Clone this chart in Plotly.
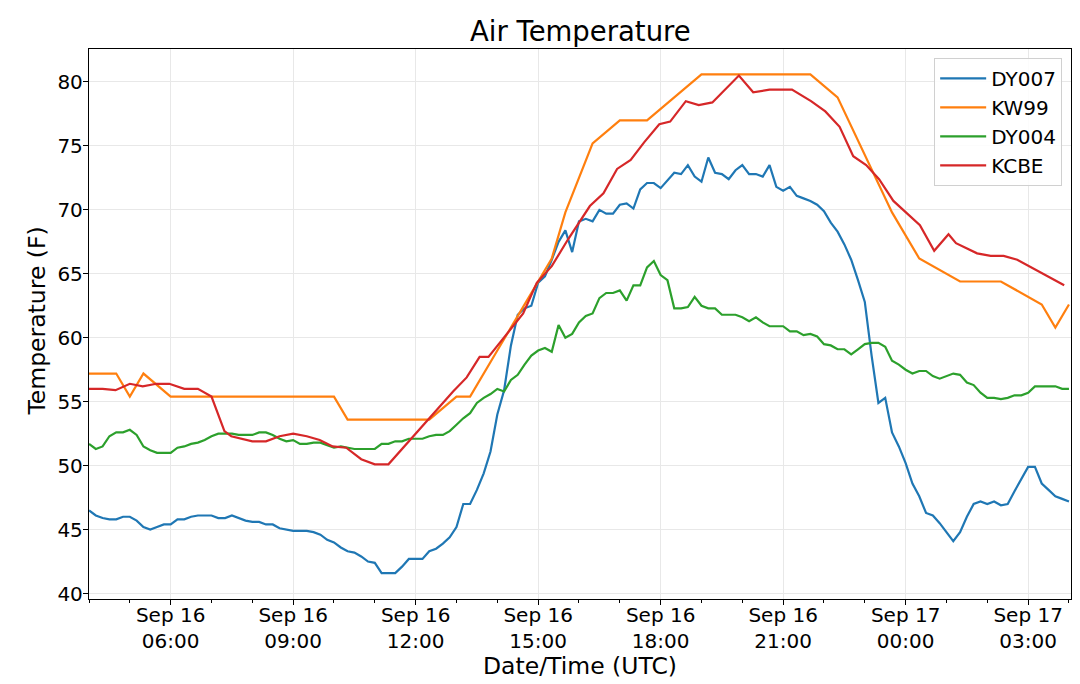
import plotly.graph_objects as go
import pandas as pd

# DY007 / DY004: 10-minute observations, Sep 16 04:00 UTC -> Sep 17 04:00 UTC
start = "2019-09-16 04:00"

dy007 = [
    46.5, 46.1, 45.9, 45.8, 45.8, 46.0,  # 04h
    46.0, 45.7, 45.2, 45.0, 45.2, 45.4,  # 05h
    45.4, 45.8, 45.8, 46.0, 46.1, 46.1,  # 06h
    46.1, 45.9, 45.9, 46.1, 45.9, 45.7,  # 07h
    45.6, 45.6, 45.4, 45.4, 45.1, 45.0,  # 08h
    44.9, 44.9, 44.9, 44.8, 44.6, 44.2,  # 09h
    44.0, 43.6, 43.3, 43.2, 42.9, 42.5,  # 10h
    42.4, 41.6, 41.6, 41.6, 42.1, 42.7,  # 11h
    42.7, 42.7, 43.3, 43.5, 43.9, 44.4,  # 12h
    45.2, 47.0, 47.0, 48.1, 49.4, 51.1,  # 13h
    54.0, 55.9, 59.4, 61.8, 62.3, 62.5,  # 14h
    64.3, 64.8, 66.1, 67.5, 68.4, 66.7,  # 15h
    69.1, 69.3, 69.1, 70.0, 69.7, 69.7,  # 16h
    70.4, 70.5, 70.1, 71.6, 72.1, 72.1,  # 17h
    71.7, 72.3, 72.9, 72.8, 73.5, 72.6,  # 18h
    72.2, 74.1, 72.9, 72.8, 72.4, 73.1,  # 19h
    73.5, 72.8, 72.8, 72.6, 73.5, 71.8,  # 20h
    71.5, 71.8, 71.1, 70.9, 70.7, 70.4,  # 21h
    69.9, 69.0, 68.3, 67.3, 66.1, 64.5,  # 22h
    62.8, 58.6, 54.9, 55.3, 52.6, 51.5,  # 23h
    50.2, 48.6, 47.6, 46.3, 46.1, 45.5,  # 00h
    44.8, 44.1, 44.8, 46.0, 47.0, 47.2,  # 01h
    47.0, 47.2, 46.9, 47.0, 48.0, 49.0,  # 02h
    49.9, 49.9, 48.6, 48.1, 47.6, 47.4,  # 03h
    47.2,
]

dy004 = [
    51.7, 51.3, 51.5, 52.3, 52.6, 52.6,  # 04h
    52.8, 52.4, 51.5, 51.2, 51.0, 51.0,  # 05h
    51.0, 51.4, 51.5, 51.7, 51.8, 52.0,  # 06h
    52.3, 52.5, 52.5, 52.5, 52.4, 52.4,  # 07h
    52.4, 52.6, 52.6, 52.4, 52.1, 51.9,  # 08h
    52.0, 51.7, 51.7, 51.8, 51.8, 51.6,  # 09h
    51.4, 51.5, 51.4, 51.3, 51.3, 51.3,  # 10h
    51.3, 51.7, 51.7, 51.9, 51.9, 52.1,  # 11h
    52.1, 52.1, 52.3, 52.4, 52.4, 52.7,  # 12h
    53.2, 53.7, 54.1, 54.9, 55.3, 55.6,  # 13h
    56.0, 55.8, 56.7, 57.1, 57.9, 58.6,  # 14h
    59.0, 59.2, 58.9, 61.0, 60.0, 60.3,  # 15h
    61.2, 61.7, 61.9, 63.1, 63.5, 63.5,  # 16h
    63.7, 62.9, 64.1, 64.1, 65.5, 66.0,  # 17h
    64.9, 64.5, 62.3, 62.3, 62.4, 63.2,  # 18h
    62.5, 62.3, 62.3, 61.8, 61.8, 61.8,  # 19h
    61.6, 61.3, 61.6, 61.2, 60.9, 60.9,  # 20h
    60.9, 60.5, 60.5, 60.2, 60.3, 60.1,  # 21h
    59.5, 59.4, 59.1, 59.1, 58.7, 59.1,  # 22h
    59.5, 59.6, 59.6, 59.3, 58.2, 57.9,  # 23h
    57.5, 57.2, 57.4, 57.4, 57.0, 56.8,  # 00h
    57.0, 57.2, 57.1, 56.5, 56.3, 55.7,  # 01h
    55.3, 55.3, 55.2, 55.3, 55.5, 55.5,  # 02h
    55.7, 56.2, 56.2, 56.2, 56.2, 56.0,  # 03h
    56.0,
]

# KW99 (whole-degree Celsius reports)
kw99_time = ["04:00", "04:40", "05:00", "05:20", "06:00", "10:00", "10:20", "12:20",
             "13:00", "13:20", "14:00", "14:20", "14:40", "15:00", "15:20", "15:40",
             "16:20", "17:00", "17:40", "19:00", "21:40", "22:20", "23:40", "00:20",
             "01:20", "02:20", "03:20", "03:40", "04:00"]
kw99 = [57.2, 57.2, 55.4, 57.2, 55.4, 55.4, 53.6, 53.6,
        55.4, 55.4, 59.0, 60.8, 62.6, 64.4, 66.2, 69.8,
        75.2, 77.0, 77.0, 80.6, 80.6, 78.8, 69.8, 66.2,
        64.4, 64.4, 62.6, 60.8, 62.6]

# KCBE
kcbe_time = ["04:00", "04:20", "04:39", "05:00", "05:19", "05:39", "05:58", "06:20",
             "06:40", "07:00", "07:19", "07:29", "08:00", "08:20", "08:40", "09:00",
             "09:20", "09:39", "09:58", "10:18", "10:40", "11:00", "11:20", "12:26",
             "12:55", "13:15", "13:34", "13:47", "14:11", "14:38", "14:58", "15:20",
             "15:44", "16:16", "16:36", "16:56", "17:16", "17:36", "17:58", "18:14",
             "18:37", "18:56", "19:16", "19:55", "20:16", "20:40", "21:13", "21:41",
             "22:02", "22:23", "22:43", "23:02", "23:21", "23:42", "00:21", "00:42",
             "01:03", "01:14", "01:45", "02:05", "02:24", "02:44", "03:53"]
kcbe = [56.0, 56.0, 55.9, 56.4, 56.2, 56.4, 56.4, 56.0,
        56.0, 55.4, 52.7, 52.3, 51.9, 51.9, 52.3, 52.5,
        52.3, 52.0, 51.5, 51.4, 50.5, 50.1, 50.1, 54.1,
        55.8, 56.9, 58.5, 58.5, 60.1, 61.9, 64.3, 65.6,
        67.7, 70.3, 71.3, 73.2, 73.9, 75.3, 76.7, 76.9,
        78.5, 78.2, 78.4, 80.5, 79.2, 79.4, 79.4, 78.5,
        77.7, 76.5, 74.2, 73.5, 72.4, 70.7, 68.8, 66.8,
        68.1, 67.4, 66.6, 66.4, 66.4, 66.1, 64.1]


def stamps(hhmm):
    # HH:MM list starting Sep 16; roll to the next day after midnight
    day = pd.Timestamp("2019-09-16")
    out = []
    for s in hhmm:
        t = day + pd.Timedelta(hours=int(s[:2]), minutes=int(s[3:]))
        if out and t < out[-1]:
            day += pd.Timedelta(days=1)
            t += pd.Timedelta(days=1)
        out.append(t)
    return out


ten_min = pd.date_range(start, periods=len(dy007), freq="10min")

series = [
    ("DY007", ten_min, dy007, "#1f77b4"),
    ("KW99", stamps(kw99_time), kw99, "#ff7f0e"),
    ("DY004", ten_min, dy004, "#2ca02c"),
    ("KCBE", stamps(kcbe_time), kcbe, "#d62728"),
]

fig = go.Figure()
for name, x, y, c in series:
    fig.add_trace(go.Scatter(x=x, y=y, name=name, mode="lines",
                             line=dict(color=c, width=2.2)))

font = "DejaVu Sans, Arial, sans-serif"
fig.update_layout(
    width=1080, height=684,
    margin=dict(l=89, r=9, t=49, b=85),
    paper_bgcolor="white", plot_bgcolor="white",
    font=dict(family=font, size=20, color="black"),
    legend=dict(x=0.991, y=0.984, xanchor="right", yanchor="top",
                bgcolor="rgba(255,255,255,0.85)", bordercolor="#d0d0d0",
                borderwidth=1, itemwidth=46, font=dict(size=20)),
    showlegend=True,
    annotations=[
        dict(text="Air Temperature", xref="paper", yref="paper", x=0.5, y=1.032,
             xanchor="center", yanchor="middle", showarrow=False,
             font=dict(size=27.5)),
        dict(text="Date/Time (UTC)", xref="paper", yref="paper", x=0.5, y=-0.122,
             xanchor="center", yanchor="middle", showarrow=False,
             font=dict(size=23.5)),
        dict(text="Temperature (F)", xref="paper", yref="paper", x=-0.0533, y=0.5057,
             xanchor="center", yanchor="middle", textangle=-90, showarrow=False,
             font=dict(size=23.5)),
    ],
)
fig.update_xaxes(
    type="date", automargin=False,
    range=["2019-09-16 04:00", "2019-09-17 04:03"],
    tick0="2019-09-16 06:00", dtick=3 * 3600000,
    tickformat="%b %d<br>%H:%M",
    ticks="outside", ticklen=5, tickcolor="black", ticklabelstandoff=-7,
    minor=dict(dtick=3600000, tick0="2019-09-16 04:00", ticks="outside",
               ticklen=3, tickcolor="black", showgrid=False),
    showgrid=True, gridcolor="#e8e8e8", gridwidth=1,
    showline=True, linecolor="black", linewidth=1.3, mirror=True,
    zeroline=False,
)
fig.update_yaxes(
    automargin=False,
    range=[39.57, 82.58], dtick=5, tick0=40,
    ticks="outside", ticklen=5, tickcolor="black", ticklabelstandoff=-4,
    showgrid=True, gridcolor="#e8e8e8", gridwidth=1,
    showline=True, linecolor="black", linewidth=1.3, mirror=True,
    zeroline=False,
)

# the page body has a default 8px margin; drop it so the figure fills the window
fig.write_html("out.html", config={"displayModeBar": False},
               post_script="document.body.style.margin='0';"
                           "document.body.style.overflow='hidden';")
